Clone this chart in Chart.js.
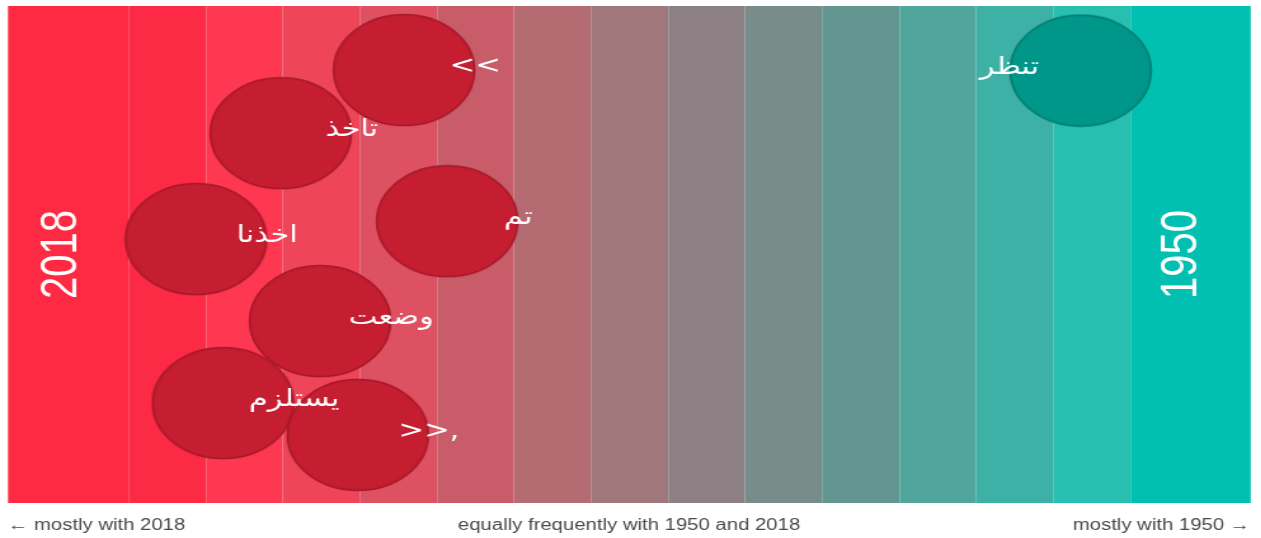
<!DOCTYPE html>
<html>
<head>
<meta charset="utf-8">
<script src="https://cdn.jsdelivr.net/npm/chart.js@4.4.1/dist/chart.umd.min.js"></script>
<style>
  html, body { margin: 0; padding: 0; background: #fff; overflow: hidden; }
  /* the original picture is stretched sideways, so draw narrow and stretch */
  #wrap { width: 993px; height: 538px; transform: scaleX(1.27); transform-origin: 0 0; }
</style>
</head>
<body>
<div id="wrap"><canvas id="wordChart"></canvas></div>
<script>
// --- Data ---
// x: position between "mostly 2018" (left) and "mostly 1950" (right), one unit per band
const xMin = -8.06;
const xMax = 8.06;
const bandEdges = [-8.06, -6.5, -5.5, -4.5, -3.5, -2.5, -1.5, -0.5, 0.5, 1.5, 2.5, 3.5, 4.5, 5.5, 6.5, 8.06];
const axisLabels = ['← mostly with 2018', 'equally frequently with 1950 and 2018', 'mostly with 1950 →'];
const yearLabels = ['2018', '1950'];

const words2018 = ['<<', 'تاخذ', 'اخذنا', 'تم', 'وضعت', 'يستلزم', '>>,'];
const x2018 = [-2.92, -4.52, -5.62, -2.36, -4.01, -5.27, -3.52];
const y2018 = [8.71, 7.44, 5.31, 5.67, 3.66, 2.01, 1.37];

const words1950 = ['تنظر'];
const x1950 = [5.86];
const y1950 = [8.70];

// --- Styles ---
const bandColors = ['#fe2a43', '#fd2a45', '#fd3850', '#ee4558', '#de5162', '#c85d69', '#b46b71',
    '#a0777b', '#8c8084', '#788c89', '#639690', '#52a59c', '#3eb1a6', '#29bfb0', '#02c0b1'];
const fontFamily = '"Liberation Sans", "DejaVu Sans", Arial, sans-serif';
const wordFont = '24px "DejaVu Sans", sans-serif';
const bubbleR = 56;

function makeBubble(fill, stroke) {
    const c = document.createElement('canvas');
    c.width = bubbleR * 2 + 2;
    c.height = bubbleR * 2 + 2;
    const g = c.getContext('2d');
    g.beginPath();
    g.arc(bubbleR + 1, bubbleR + 1, bubbleR - 0.5, 0, Math.PI * 2);
    g.fillStyle = fill;
    g.fill();
    g.lineWidth = 1.5;
    g.strokeStyle = stroke;
    g.stroke();
    return c;
}

const redBubble = makeBubble('#c41e30', '#a3192a');
const tealBubble = makeBubble('#00968a', '#007a6f');

// bands + big year labels behind the bubbles
const backgroundPlugin = {
    id: 'bands',
    beforeDatasetsDraw(chart) {
        const { ctx, chartArea, scales } = chart;
        ctx.save();
        for (let i = 0; i < bandColors.length; i++) {
            const x0 = scales.x.getPixelForValue(bandEdges[i]);
            const x1 = scales.x.getPixelForValue(bandEdges[i + 1]);
            ctx.fillStyle = bandColors[i];
            ctx.fillRect(x0, chartArea.top, x1 - x0 + 0.5, chartArea.bottom - chartArea.top);
        }
        ctx.strokeStyle = 'rgba(255,255,255,0.2)';
        ctx.lineWidth = 1;
        for (let i = 1; i < bandEdges.length - 1; i++) {
            const x = Math.round(scales.x.getPixelForValue(bandEdges[i])) + 0.5;
            ctx.beginPath();
            ctx.moveTo(x, chartArea.top);
            ctx.lineTo(x, chartArea.bottom);
            ctx.stroke();
        }

        // rotated year labels
        const midY = (chartArea.top + chartArea.bottom) / 2;
        const spots = [chartArea.left + 42.5, chartArea.right - 53];
        ctx.fillStyle = '#ffffff';
        ctx.font = '40px ' + fontFamily;
        ctx.textAlign = 'center';
        ctx.textBaseline = 'middle';
        yearLabels.forEach(function (label, i) {
            ctx.save();
            ctx.translate(spots[i], midY);
            ctx.rotate(-Math.PI / 2);
            ctx.fillText(label, 0, 0);
            ctx.restore();
        });
        ctx.restore();
    }
};

// word labels on the bubble edge facing the middle
const wordPlugin = {
    id: 'words',
    afterDatasetsDraw(chart) {
        const ctx = chart.ctx;
        const sets = [{ words: words2018, dx: bubbleR }, { words: words1950, dx: -bubbleR }];
        ctx.save();
        ctx.fillStyle = '#ffffff';
        ctx.font = wordFont;
        ctx.textAlign = 'center';
        ctx.textBaseline = 'middle';
        sets.forEach(function (set, i) {
            chart.getDatasetMeta(i).data.forEach(function (pt, j) {
                ctx.fillText(set.words[j], pt.x + set.dx, pt.y - 3);
            });
        });
        ctx.restore();
    }
};

const ctx = document.getElementById('wordChart').getContext('2d');
new Chart(ctx, {
    type: 'scatter',
    data: {
        datasets: [{
            label: '2018',
            data: x2018.map((x, i) => ({ x: x, y: y2018[i] })),
            pointStyle: redBubble
        }, {
            label: '1950',
            data: x1950.map((x, i) => ({ x: x, y: y1950[i] })),
            pointStyle: tealBubble
        }]
    },
    options: {
        responsive: true,
        maintainAspectRatio: false,
        animation: false,
        devicePixelRatio: 1,
        events: [],
        layout: { autoPadding: false, padding: { left: 6.3, right: 8.7, top: 6, bottom: 3 } },
        plugins: { legend: { display: false }, tooltip: { enabled: false } },
        scales: {
            x: {
                type: 'linear',
                min: xMin,
                max: xMax,
                grid: { display: false, drawTicks: false },
                border: { display: false },
                afterBuildTicks: function (axis) {
                    axis.ticks = [xMin, 0, xMax].map(v => ({ value: v }));
                },
                afterFit: function (axis) {
                    // keep the plot edge-to-edge and the labels close under it
                    axis.height = 32;
                    axis.paddingLeft = 0;
                    axis.paddingRight = 0;
                },
                ticks: {
                    autoSkip: false,
                    maxRotation: 0,
                    align: 'inner',
                    padding: 13,
                    color: '#4a4a4a',
                    font: { family: fontFamily, size: 16 },
                    callback: function (value, index) { return axisLabels[index]; }
                }
            },
            y: { display: false, min: 0, max: 10 }
        }
    },
    plugins: [backgroundPlugin, wordPlugin]
});
</script>
</body>
</html>
